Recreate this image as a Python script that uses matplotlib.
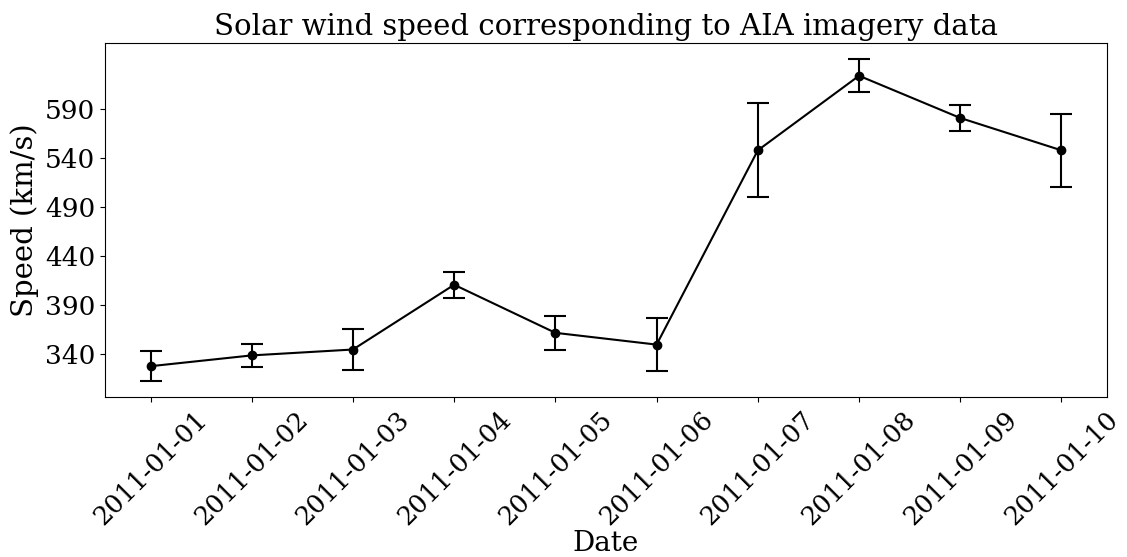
import matplotlib
matplotlib.use("Agg")
import matplotlib.pyplot as plt
import numpy as np

dates = ["2011-01-01", "2011-01-02", "2011-01-03", "2011-01-04", "2011-01-05",
         "2011-01-06", "2011-01-07", "2011-01-08", "2011-01-09", "2011-01-10"]
speed = [328, 339, 345, 411, 362, 350, 548, 624, 581, 548]
err = [15, 12, 21, 13, 17, 27, 48, 17, 13, 37]
yticks = [340, 390, 440, 490, 540, 590]

plt.rcParams['font.family'] = ['DejaVu Serif']

fig = plt.figure(figsize=(11.27, 5.57), dpi=100)
ax = fig.add_axes([105/1127, 1-397/557, (1107-105)/1127, (397-43)/557])
x = np.arange(len(dates))
ax.errorbar(x, speed, yerr=err, fmt='o-', color='black', capsize=8, markersize=6, linewidth=1.5, elinewidth=1.5, capthick=1.5)
ax.set_xticks(x)
ax.set_xticklabels(dates, rotation=45, fontsize=18.5)
ax.set_yticks(yticks)
ax.tick_params(axis='y', labelsize=19)
ax.set_xlabel("Date", fontsize=20)
ax.xaxis.set_label_coords(0.5, -0.375)
ax.set_ylabel("Speed (km/s)", fontsize=21)
ax.set_title("Solar wind speed corresponding to AIA imagery data", fontsize=21)
fig.savefig("out.png", dpi=100)
